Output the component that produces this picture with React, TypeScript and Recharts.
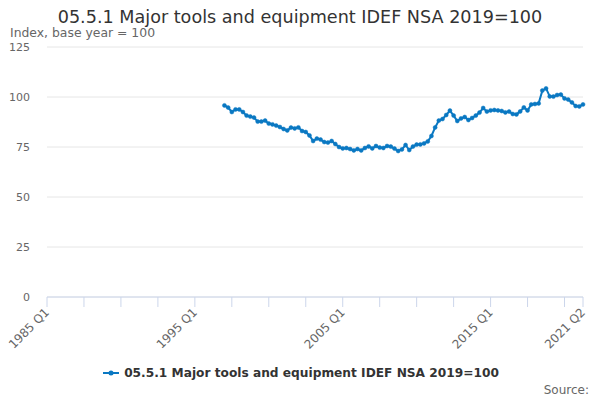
import { LineChart, Line, XAxis, YAxis, CartesianGrid } from 'recharts'

const TITLE = '05.5.1 Major tools and equipment IDEF NSA 2019=100'
const SUBTITLE = 'Index, base year = 100'
const SERIES_NAME = '05.5.1 Major tools and equipment IDEF NSA 2019=100'
const SOURCE = 'Source:'

const FIRST_YEAR = 1985
const LAST_YEAR = 2021
const LAST_QUARTER = 2
const SERIES_START = '1997 Q1'

// quarterly index values, 1997 Q1 .. 2021 Q2
const VALUES = [
  95.8, 94.7, 92.5, 93.8, 93.8, 92.5, 90.7, 90.2, 89.7, 87.7,
  87.7, 88.2, 86.7, 86.3, 85.7, 85.0, 84.0, 83.3, 84.7, 84.3,
  84.8, 83.0, 82.5, 80.8, 78.0, 79.2, 78.7, 77.5, 77.2, 78.0,
  76.5, 75.0, 74.3, 74.5, 74.0, 73.3, 74.0, 73.3, 74.5, 75.3,
  74.3, 75.5, 74.7, 74.5, 75.5, 75.2, 74.2,
  73.0, 73.8, 76.0, 73.5, 75.2, 76.2, 76.3, 76.8, 77.8, 80.5,
  84.8, 88.2, 89.0, 91.0, 93.2, 90.7, 88.0, 89.3, 90.0, 88.5,
  89.5, 90.7, 92.2, 94.5, 92.7, 93.3, 93.5, 93.3, 93.0, 92.3,
  92.7, 91.5, 91.3, 92.8, 94.8, 93.3, 96.3, 96.5, 96.8, 103.2,
  104.3, 100.3, 100.2, 101.0, 101.2, 99.3, 98.7, 97.3, 95.5, 95.3,
  96.3,
]

const Y_TICKS = [0, 25, 50, 75, 100, 125]
const X_LABELS = ['1985 Q1', '1995 Q1', '2005 Q1', '2015 Q1', '2021 Q2']
const X_TICK_STEP = 10

const COLOR = '#0a78c2'
const FONT = "'DejaVu Sans', sans-serif"

const QUARTERS: string[] = []
for (let y = FIRST_YEAR; y <= LAST_YEAR; y++) {
  for (let q = 1; q <= 4; q++) {
    if (y === LAST_YEAR && q > LAST_QUARTER) break
    QUARTERS.push(`${y} Q${q}`)
  }
}

const startIdx = QUARTERS.indexOf(SERIES_START)
const data = QUARTERS.map((quarter, i) => ({
  i,
  quarter,
  value: i >= startIdx && i - startIdx < VALUES.length ? VALUES[i - startIdx] : null,
}))

const lastIdx = QUARTERS.length - 1
const xTicks: number[] = []
for (let i = 0; i < lastIdx; i += X_TICK_STEP) xTicks.push(i)
xTicks.push(lastIdx)

function XTick({ x, y, payload }: any) {
  const label = QUARTERS[payload.value]
  if (!X_LABELS.includes(label)) return <g />
  const tx = x + 3
  const ty = y + 4
  return (
    <text
      x={tx}
      y={ty}
      textAnchor="end"
      fontSize={12}
      fill="#666666"
      fontFamily={FONT}
      transform={`rotate(-45 ${tx} ${ty})`}
    >
      {label}
    </text>
  )
}

function YTick({ y, payload }: any) {
  return (
    <text x={30} y={y + 4} textAnchor="end" fontSize={11} fill="#666666" fontFamily={FONT}>
      {payload.value}
    </text>
  )
}

export default function App() {
  return (
    <div style={{ position: 'fixed', left: 0, top: 0, width: 600, height: 400, background: '#fff' }}>
      <div
        style={{
          position: 'absolute',
          top: 7,
          width: 600,
          textAlign: 'center',
          fontFamily: FONT,
          fontSize: 17.6,
          color: '#333333',
          lineHeight: '20px',
        }}
      >
        {TITLE}
      </div>
      <div
        style={{
          position: 'absolute',
          top: 26,
          left: 10,
          fontFamily: FONT,
          fontSize: 12.4,
          color: '#666666',
          lineHeight: '13px',
        }}
      >
        {SUBTITLE}
      </div>
      <LineChart
        width={600}
        height={400}
        data={data}
        margin={{ top: 47, right: 17, bottom: 73, left: 7 }}
      >
        <CartesianGrid vertical={false} stroke="#e6e6e6" />
        <XAxis
          type="number"
          dataKey="i"
          height={30}
          domain={[0, lastIdx]}
          ticks={xTicks}
          interval={0}
          tick={<XTick />}
          tickSize={10}
          tickLine={{ stroke: '#ccd6eb' }}
          axisLine={{ stroke: '#ccd6eb' }}
        />
        <YAxis
          width={40}
          domain={[0, 125]}
          ticks={Y_TICKS}
          interval={0}
          tick={<YTick />}
          tickLine={false}
          axisLine={false}
        />
        <Line
          type="linear"
          dataKey="value"
          name={SERIES_NAME}
          stroke={COLOR}
          strokeWidth={2}
          dot={{ r: 2, fill: COLOR, stroke: COLOR, strokeWidth: 0.5 }}
          isAnimationActive={false}
        />
      </LineChart>
      <div
        style={{
          position: 'absolute',
          top: 365,
          left: 0,
          width: 600,
          display: 'flex',
          justifyContent: 'center',
          alignItems: 'center',
          fontFamily: FONT,
          fontSize: 12.2,
          fontWeight: 'bold',
          color: '#333333',
          lineHeight: '16px',
        }}
      >
        <svg width={20} height={12} style={{ marginRight: 3 }}>
          <line x1={2} y1={6} x2={18} y2={6} stroke={COLOR} strokeWidth={2} />
          <circle cx={10} cy={6} r={2.5} fill={COLOR} />
        </svg>
        {SERIES_NAME}
      </div>
      <div
        style={{
          position: 'absolute',
          top: 382,
          right: 11,
          fontFamily: FONT,
          fontSize: 12,
          color: '#666666',
          lineHeight: '16px',
        }}
      >
        {SOURCE}
      </div>
    </div>
  )
}
